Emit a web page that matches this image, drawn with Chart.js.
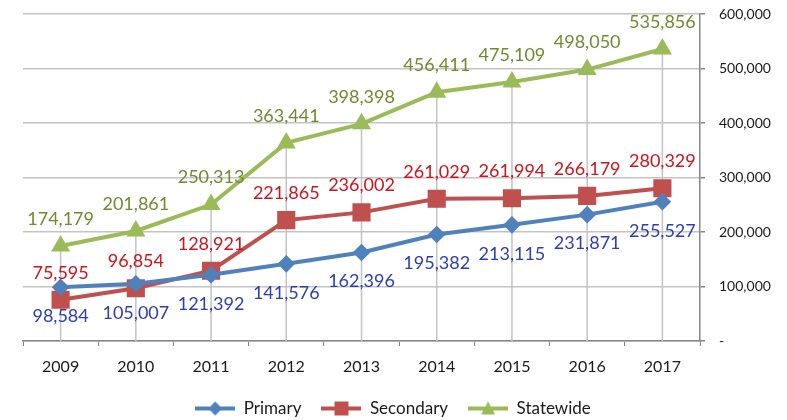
<!DOCTYPE html>
<html>
<head>
<meta charset="utf-8">
<script src="https://cdn.jsdelivr.net/npm/chart.js@4.4.1/dist/chart.umd.min.js"></script>
<style>
  html, body { margin: 0; padding: 0; background: #fff; }
  #wrap { width: 787px; height: 420px; }
</style>
</head>
<body>
<div id="wrap"><canvas id="chart" width="787" height="420"></canvas></div>
<script>
const years = ["2009", "2010", "2011", "2012", "2013", "2014", "2015", "2016", "2017"];
const primary = [98584, 105007, 121392, 141576, 162396, 195382, 213115, 231871, 255527];
const secondary = [75595, 96854, 128921, 221865, 236002, 261029, 261994, 266179, 280329];
const statewide = [174179, 201861, 250313, 363441, 398398, 456411, 475109, 498050, 535856];

const FONT = "Lato, 'Open Sans', sans-serif";
const fmt = (v) => v.toLocaleString("en-US");

// small legend icon: line with the series marker in the middle
function legendIcon(color, shape) {
  const c = document.createElement("canvas");
  c.width = 40;
  c.height = 18;
  const ctx = c.getContext("2d");
  ctx.strokeStyle = color;
  ctx.fillStyle = color;
  ctx.lineWidth = 4;
  ctx.beginPath();
  ctx.moveTo(0, 9);
  ctx.lineTo(40, 9);
  ctx.stroke();
  ctx.beginPath();
  if (shape === "diamond") {
    ctx.moveTo(20, 2); ctx.lineTo(27, 9); ctx.lineTo(20, 16); ctx.lineTo(13, 9);
  } else if (shape === "square") {
    ctx.rect(13, 2, 14, 14);
  } else {
    ctx.moveTo(20, 2); ctx.lineTo(27, 15); ctx.lineTo(13, 15);
  }
  ctx.closePath();
  ctx.fill();
  return c;
}

// Excel style drop lines from the highest point down to the axis
const dropLines = {
  id: "dropLines",
  beforeDatasetsDraw(chart) {
    const { ctx, chartArea } = chart;
    const metas = chart.getSortedVisibleDatasetMetas();
    ctx.save();
    ctx.strokeStyle = "#c3c3c3";
    ctx.lineWidth = 1.5;
    years.forEach((y, i) => {
      let top = chartArea.bottom;
      let x = null;
      metas.forEach((m) => {
        const p = m.data[i];
        if (p) { top = Math.min(top, p.y); x = p.x; }
      });
      if (x === null) return;
      ctx.beginPath();
      ctx.moveTo(x, top);
      ctx.lineTo(x, chartArea.bottom);
      ctx.stroke();
    });
    ctx.restore();
  },
};

// value labels next to each point
const valueLabels = {
  id: "valueLabels",
  afterDatasetsDraw(chart) {
    const { ctx } = chart;
    ctx.save();
    ctx.font = "18px " + FONT;
    ctx.textAlign = "center";
    ctx.textBaseline = "middle";
    chart.data.datasets.forEach((ds, di) => {
      const meta = chart.getDatasetMeta(di);
      ctx.fillStyle = ds.labelColor;
      meta.data.forEach((p, i) => {
        ctx.fillText(fmt(ds.data[i]), p.x, p.y + ds.labelOffset);
      });
    });
    ctx.restore();
  },
};

// nudge the legend a bit left, like the original
const legendShift = {
  id: "legendShift",
  afterLayout(chart) {
    if (chart.legend) {
      chart.legend.left -= 12;
      chart.legend.right -= 12;
    }
  },
};

new Chart(document.getElementById("chart"), {
  type: "line",
  data: {
    labels: years,
    datasets: [
      {
        label: "Primary",
        data: primary,
        borderColor: "#4f81bd",
        backgroundColor: "#4f81bd",
        borderWidth: 4,
        pointStyle: "rectRot",
        pointRadius: 6,
        labelColor: "#2e3cb8",
        labelOffset: 29,
        legendIcon: legendIcon("#4f81bd", "diamond"),
      },
      {
        label: "Secondary",
        data: secondary,
        borderColor: "#c0504d",
        backgroundColor: "#c0504d",
        borderWidth: 4,
        pointStyle: "rect",
        pointRadius: 10,
        labelColor: "#d0121b",
        labelOffset: -27,
        legendIcon: legendIcon("#c0504d", "square"),
      },
      {
        label: "Statewide",
        data: statewide,
        borderColor: "#9bbb59",
        backgroundColor: "#9bbb59",
        borderWidth: 4,
        pointStyle: "triangle",
        pointRadius: 7,
        labelColor: "#6e8b2f",
        labelOffset: -27,
        legendIcon: legendIcon("#9bbb59", "triangle"),
      },
    ],
  },
  options: {
    responsive: false,
    animation: false,
    layout: { padding: { left: 23, top: 12, right: 0, bottom: 0 } },
    elements: { line: { tension: 0 }, point: { borderWidth: 0 } },
    scales: {
      x: {
        offset: true,
        grid: {
          offset: true,
          drawOnChartArea: false,
          color: "#868686",
          tickLength: 5,
        },
        border: { color: "#868686", width: 1.5 },
        ticks: {
          color: "#1a1a1a",
          font: { family: FONT, size: 16 },
          padding: 11,
          maxRotation: 0,
        },
        afterFit(scale) { scale.height = 39; },
      },
      y: {
        position: "right",
        min: 0,
        max: 600000,
        grid: { color: "#c3c3c3", lineWidth: 1.5, tickLength: 5, tickColor: "#868686" },
        border: { color: "#868686", width: 1.5 },
        ticks: {
          stepSize: 100000,
          color: "#1a1a1a",
          font: { family: FONT, size: 14 },
          padding: 14,
          callback: (v) => (v === 0 ? "-" : fmt(v)),
        },
        afterFit(scale) {
          scale.width = 87;
          scale.paddingTop = 0;
          scale.paddingBottom = 0;
        },
      },
    },
    plugins: {
      tooltip: { enabled: false },
      legend: {
        position: "bottom",
        maxHeight: 40,
        labels: {
          usePointStyle: true,
          pointStyleWidth: 40,
          padding: 20,
          color: "#1a1a1a",
          font: { family: FONT, size: 17 },
          generateLabels(chart) {
            return chart.data.datasets.map((ds, i) => ({
              text: ds.label,
              pointStyle: ds.legendIcon,
              fillStyle: ds.borderColor,
              strokeStyle: ds.borderColor,
              lineWidth: 0,
              hidden: false,
              datasetIndex: i,
              fontColor: "#1a1a1a",
            }));
          },
        },
      },
    },
  },
  plugins: [dropLines, valueLabels, legendShift],
});
</script>
</body>
</html>
